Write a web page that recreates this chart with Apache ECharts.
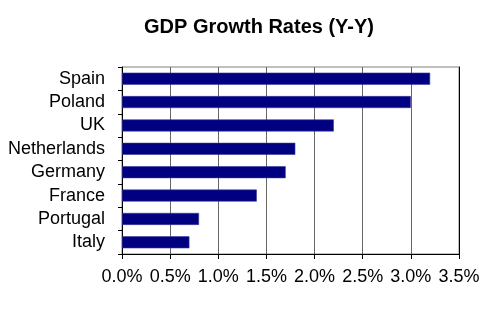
<!DOCTYPE html>
<html><head><meta charset="utf-8">
<script src="https://cdn.jsdelivr.net/npm/echarts@6/dist/echarts.min.js"></script>
<style>html,body{margin:0;padding:0;background:#fff}#c{width:497px;height:327px}</style>
</head><body><div id="c"></div>
<script>
const categories = ["Spain","Poland","UK","Netherlands","Germany","France","Portugal","Italy"];
const growth = [3.2, 3.0, 2.2, 1.8, 1.7, 1.4, 0.8, 0.7];
const titleText = "GDP Growth Rates (Y-Y)";
const font = "Arial, 'Liberation Sans', sans-serif";
const chart = echarts.init(document.getElementById('c'), null, {renderer:'canvas'});
chart.setOption({
  animation:false,
  backgroundColor:'#fff',
  title:{text:titleText, left:254, textAlign:'center', top:12,
    textStyle:{fontFamily:font, fontSize:20, fontWeight:'bold', color:'#000'}},
  grid:{left:122, right:38, top:67, bottom:73, show:true, borderColor:'#808080', borderWidth:1},
  xAxis:{type:'value', min:0, max:3.5, interval:0.5,
    axisLine:{show:true, lineStyle:{color:'#000', width:1}},
    axisTick:{show:true, length:5, lineStyle:{color:'#000'}},
    splitLine:{show:true, lineStyle:{color:'#666', width:1}},
    axisLabel:{fontFamily:font, fontSize:18, color:'#000', margin:14,
      formatter:v=>v.toFixed(1)+'%'}},
  yAxis:[{type:'category', data:categories, inverse:true,
    axisLine:{show:true, lineStyle:{color:'#000', width:1}},
    axisTick:{show:true, length:4, interval:0, lineStyle:{color:'#000'}},
    axisLabel:{fontFamily:font, fontSize:18, color:'#000', margin:17, interval:0}},
    {type:'category', data:categories, inverse:true, position:'right',
    axisLine:{show:true, lineStyle:{color:'#000', width:1}},
    axisTick:{show:false}, axisLabel:{show:false}}],
  series:[{type:'bar', data:growth, barWidth:12, yAxisIndex:0,
    itemStyle:{color:'#000080', borderColor:'#3a3aa0', borderWidth:0.6}}]
});
</script></body></html>
